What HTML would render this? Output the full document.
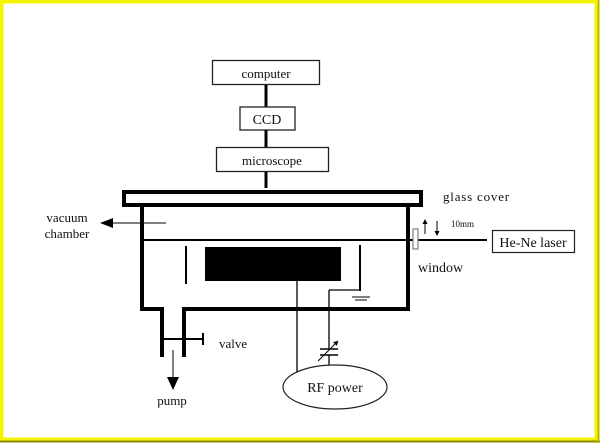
<!DOCTYPE html>
<html><head><style>
html,body{margin:0;padding:0;background:#fff;}
body{width:600px;height:443px;overflow:hidden;}
svg text{font-family:"Liberation Serif",serif;fill:#111;}
</style></head><body>
<svg width="600" height="443" viewBox="0 0 600 443" xmlns="http://www.w3.org/2000/svg">
<rect x="0" y="0" width="600" height="443" fill="#fff"/>
<rect x="1.5" y="1.5" width="595" height="438" fill="none" stroke="#f4f400" stroke-width="4"/>
<line x1="0" y1="441.5" x2="600" y2="441.5" stroke="#8a8a00" stroke-width="2"/>
<line x1="598.5" y1="0" x2="598.5" y2="443" stroke="#b8b800" stroke-width="2"/>

<!-- top stack -->
<rect x="212.5" y="60.5" width="107" height="24" fill="#fff" stroke="#222" stroke-width="1.3"/>
<text x="266" y="78" font-size="13" text-anchor="middle">computer</text>
<line x1="266" y1="85" x2="266" y2="107" stroke="#000" stroke-width="3"/>
<rect x="240" y="107" width="55" height="23" fill="#fff" stroke="#222" stroke-width="1.3"/>
<text x="267" y="124" font-size="14" text-anchor="middle">CCD</text>
<line x1="266" y1="130" x2="266" y2="147" stroke="#000" stroke-width="3"/>
<rect x="216.5" y="147.5" width="112" height="24" fill="#fff" stroke="#222" stroke-width="1.3"/>
<text x="272" y="165" font-size="13" text-anchor="middle">microscope</text>
<line x1="266" y1="172" x2="266" y2="188" stroke="#000" stroke-width="3"/>

<!-- glass cover -->
<rect x="124" y="192" width="297" height="13" fill="#fff" stroke="#000" stroke-width="4"/>
<text x="443" y="201" font-size="13" letter-spacing="0.8">glass cover</text>

<!-- chamber -->
<path d="M142 207 V309 H162 V357 M184 357 V309 H408 V207" fill="none" stroke="#000" stroke-width="4"/>
<line x1="144" y1="240" x2="487" y2="240" stroke="#000" stroke-width="2"/>
<rect x="413" y="229" width="5" height="20" fill="#fff" stroke="#666" stroke-width="1"/>
<rect x="492.5" y="230.5" width="82" height="22" fill="#fff" stroke="#222" stroke-width="1.2"/>
<text x="533" y="247" font-size="14" text-anchor="middle">He-Ne laser</text>
<text x="451" y="227" font-size="9">10mm</text>
<line x1="425" y1="234" x2="425" y2="221" stroke="#000" stroke-width="1"/>
<path d="M422.5 224 L425 219 L427.5 224Z" fill="#000"/>
<line x1="437" y1="221" x2="437" y2="234" stroke="#000" stroke-width="1"/>
<path d="M434.5 231 L437 236 L439.5 231Z" fill="#000"/>
<text x="418" y="272" font-size="14">window</text>

<!-- vacuum arrow -->
<line x1="112" y1="223" x2="166" y2="223" stroke="#000" stroke-width="1"/>
<path d="M100 223 L113 218 L113 228Z" fill="#000"/>
<text x="67" y="222" font-size="13" text-anchor="middle">vacuum</text>
<text x="67" y="238" font-size="13" text-anchor="middle">chamber</text>

<!-- electrodes -->
<line x1="186" y1="246" x2="186" y2="284" stroke="#000" stroke-width="2"/>
<rect x="205" y="247" width="136" height="34" fill="#000"/>
<line x1="360" y1="245" x2="360" y2="291" stroke="#000" stroke-width="2"/>
<line x1="329" y1="290" x2="360" y2="290" stroke="#000" stroke-width="1.3"/>
<line x1="352" y1="297" x2="370" y2="297" stroke="#000" stroke-width="1"/>
<line x1="355" y1="300" x2="367" y2="300" stroke="#000" stroke-width="1"/>
<line x1="297" y1="281" x2="297" y2="372" stroke="#000" stroke-width="1.3"/>
<line x1="329" y1="290" x2="329" y2="349" stroke="#000" stroke-width="1.3"/>
<line x1="329" y1="355" x2="329" y2="372" stroke="#000" stroke-width="1.3"/>
<line x1="320" y1="349" x2="338" y2="349" stroke="#000" stroke-width="1.5"/>
<line x1="320" y1="355" x2="338" y2="355" stroke="#000" stroke-width="1.5"/>
<line x1="318" y1="361" x2="338" y2="341" stroke="#000" stroke-width="1"/>
<path d="M338 341 L333 342 L337 346Z" fill="#000"/>
<ellipse cx="335" cy="387" rx="52" ry="22" fill="#fff" stroke="#222" stroke-width="1.2"/>
<text x="335" y="392" font-size="14" text-anchor="middle">RF power</text>

<!-- valve / pump -->
<line x1="164" y1="339" x2="203" y2="339" stroke="#000" stroke-width="2"/>
<line x1="203" y1="333" x2="203" y2="345" stroke="#000" stroke-width="2"/>
<text x="219" y="348" font-size="13">valve</text>
<line x1="173" y1="350" x2="173" y2="378" stroke="#000" stroke-width="1"/>
<path d="M167 377 L179 377 L173 390Z" fill="#000"/>
<text x="172" y="405" font-size="13" text-anchor="middle">pump</text>
</svg>
</body></html>
